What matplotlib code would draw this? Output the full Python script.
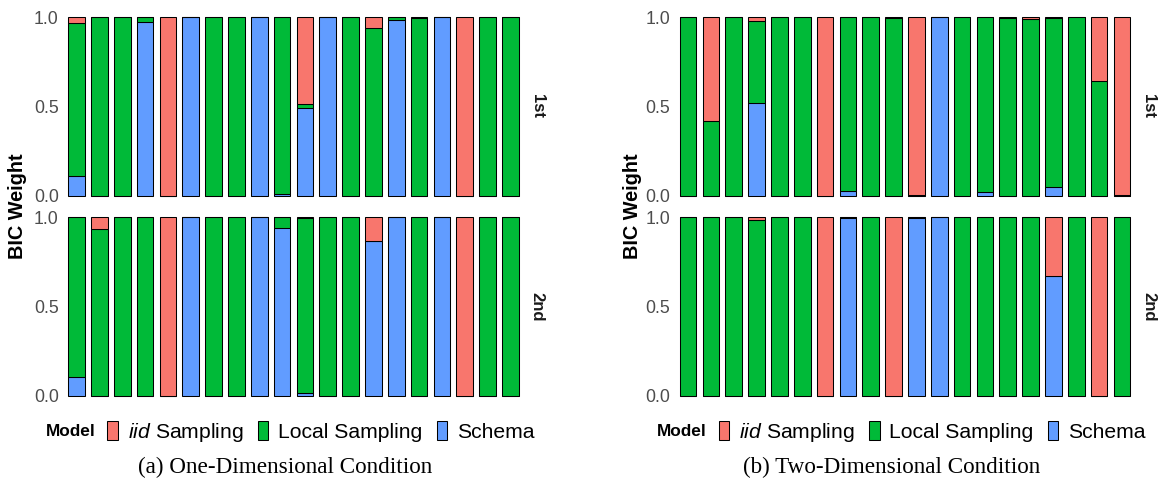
import matplotlib
matplotlib.use('Agg')
import matplotlib.pyplot as plt
from matplotlib.patches import Patch
import numpy as np

# 数据 (20 participants, stacked: Schema / Local / iid)
participants = list(range(1, 21))
sessions = ['1st', '2nd']

one_1st_iid = [0.03, 0, 0, 0, 1, 0, 0, 0, 0, 0, 0.485, 0, 0, 0.06, 0, 0.005, 0, 1, 0, 0]
one_1st_local = [0.86, 1, 1, 0.026, 0, 0, 1, 1, 0, 0.992, 0.025, 0, 1, 0.94, 0.015, 0.995, 0, 0, 1, 1]
one_1st_schema = [0.11, 0, 0, 0.974, 0, 1, 0, 0, 1, 0.008, 0.49, 1, 0, 0, 0.985, 0, 1, 0, 0, 0]

one_2nd_iid = [0, 0.064, 0, 0, 1, 0, 0, 0, 0, 0, 0.005, 0, 0, 0.135, 0, 0, 0, 1, 0, 0]
one_2nd_local = [0.895, 0.936, 1, 1, 0, 0, 1, 1, 0, 0.062, 0.98, 1, 1, 0, 0, 1, 0, 0, 1, 1]
one_2nd_schema = [0.105, 0, 0, 0, 0, 1, 0, 0, 1, 0.938, 0.015, 0, 0, 0.865, 1, 0, 1, 0, 0, 0]

two_1st_iid = [0, 0.58, 0, 0.022, 0, 0, 1, 0, 0, 0.005, 0.997, 0, 0, 0, 0.005, 0.01, 0.005, 0, 0.356, 0.995]
two_1st_local = [1, 0.42, 1, 0.458, 1, 1, 0, 0.976, 1, 0.995, 0.003, 0, 1, 0.98, 0.995, 0.99, 0.947, 1, 0.644, 0.005]
two_1st_schema = [0, 0, 0, 0.52, 0, 0, 0, 0.024, 0, 0, 0, 1, 0, 0.02, 0, 0, 0.048, 0, 0, 0]

two_2nd_iid = [0, 0, 0, 0.015, 0, 0, 1, 0, 0, 1, 0, 0, 0, 0, 0, 0, 0.328, 0, 1, 0]
two_2nd_local = [1, 1, 1, 0.985, 1, 1, 0, 0.003, 1, 0, 0.003, 0, 1, 1, 1, 1, 0, 1, 0, 1]
two_2nd_schema = [0, 0, 0, 0, 0, 0, 0, 0.997, 0, 0, 0.997, 1, 0, 0, 0, 0, 0.672, 0, 0, 0]

colors = {'iid': '#F8766D', 'local': '#00BA38', 'schema': '#619CFF'}

plt.rcParams['font.family'] = ['Liberation Sans', 'DejaVu Sans']
plt.rcParams['mathtext.fontset'] = 'custom'
plt.rcParams['mathtext.it'] = 'Liberation Sans:italic'
plt.rcParams['mathtext.rm'] = 'Liberation Sans'

W, H = 1159, 486
fig = plt.figure(figsize=(W / 100, H / 100), dpi=100)


def px_axes(x0, x1, ytop, ybot):
    return fig.add_axes([x0 / W, 1 - ybot / H, (x1 - x0) / W, (ybot - ytop) / H])


def draw_panel(ax, iid, local, schema, strip, strip_x):
    x = np.arange(len(participants))
    iid, local, schema = np.array(iid), np.array(local), np.array(schema)
    kw = dict(width=0.73, edgecolor='black', linewidth=0.75, clip_on=False)
    ax.bar(x, schema, color=colors['schema'], **kw)
    ax.bar(x, local, bottom=schema, color=colors['local'], **kw)
    ax.bar(x, iid, bottom=schema + local, color=colors['iid'], **kw)
    ax.set_xlim(-0.6, len(participants) - 0.4)
    ax.set_ylim(0, 1)
    ax.set_xticks([])
    ax.set_yticks([0, 0.5, 1.0])
    ax.set_yticklabels(['0.0', '0.5', '1.0'])
    ax.tick_params(axis='y', length=0, pad=3, labelsize=12.8, labelcolor='#4D4D4D')
    for s in ax.spines.values():
        s.set_visible(False)
    ax.text(strip_x, 0.5, strip, transform=ax.transAxes, rotation=-90,
            ha='center', va='center', fontsize=12, fontweight='bold', color='#1A1A1A')


conds = [
    (63, 524, [(one_1st_iid, one_1st_local, one_1st_schema),
               (one_2nd_iid, one_2nd_local, one_2nd_schema)],
     18, '(a) One-Dimensional Condition', 285, 45.7),
    (674.3, 1135.7, [(two_1st_iid, two_1st_local, two_1st_schema),
                     (two_2nd_iid, two_2nd_local, two_2nd_schema)],
     632, '(b) Two-Dimensional Condition', 892, 657),
]

for x0, x1, data, ylab_x, caption, cap_x, leg_x in conds:
    rows = [(17.3, 195.7), (217.3, 395.7)]
    for (ytop, ybot), (iid, local, schema), s in zip(rows, data, sessions):
        ax = px_axes(x0, x1, ytop, ybot)
        strip_x = 1 + 13 / (x1 - x0)
        draw_panel(ax, iid, local, schema, s, strip_x)
    fig.text(ylab_x / W, 1 - 206 / H, 'BIC Weight', rotation=90, ha='center', va='center',
             fontsize=14.3, fontweight='bold')
    # 图例
    fig.text(leg_x / W, 1 - 432 / H, 'Model', ha='left', va='center',
             fontsize=12.4, fontweight='bold')
    handles = [Patch(facecolor=colors['iid'], edgecolor='black', linewidth=0.75),
               Patch(facecolor=colors['local'], edgecolor='black', linewidth=0.75),
               Patch(facecolor=colors['schema'], edgecolor='black', linewidth=0.75)]
    labels = [r'$\mathit{iid}$ Sampling', 'Local Sampling', 'Schema']
    fig.legend(handles, labels, loc='center left',
               bbox_to_anchor=((leg_x + 61.6) / W, 1 - 432 / H), ncol=3, frameon=False,
               fontsize=15.2, handlelength=0.5, handleheight=1.0, handletextpad=0.47,
               columnspacing=0.67, borderpad=0, borderaxespad=0)
    fig.text(cap_x / W, 1 - 467 / H, caption, ha='center', va='center',
             fontsize=16.7, family='Liberation Serif')

fig.savefig('out.png', dpi=100)
